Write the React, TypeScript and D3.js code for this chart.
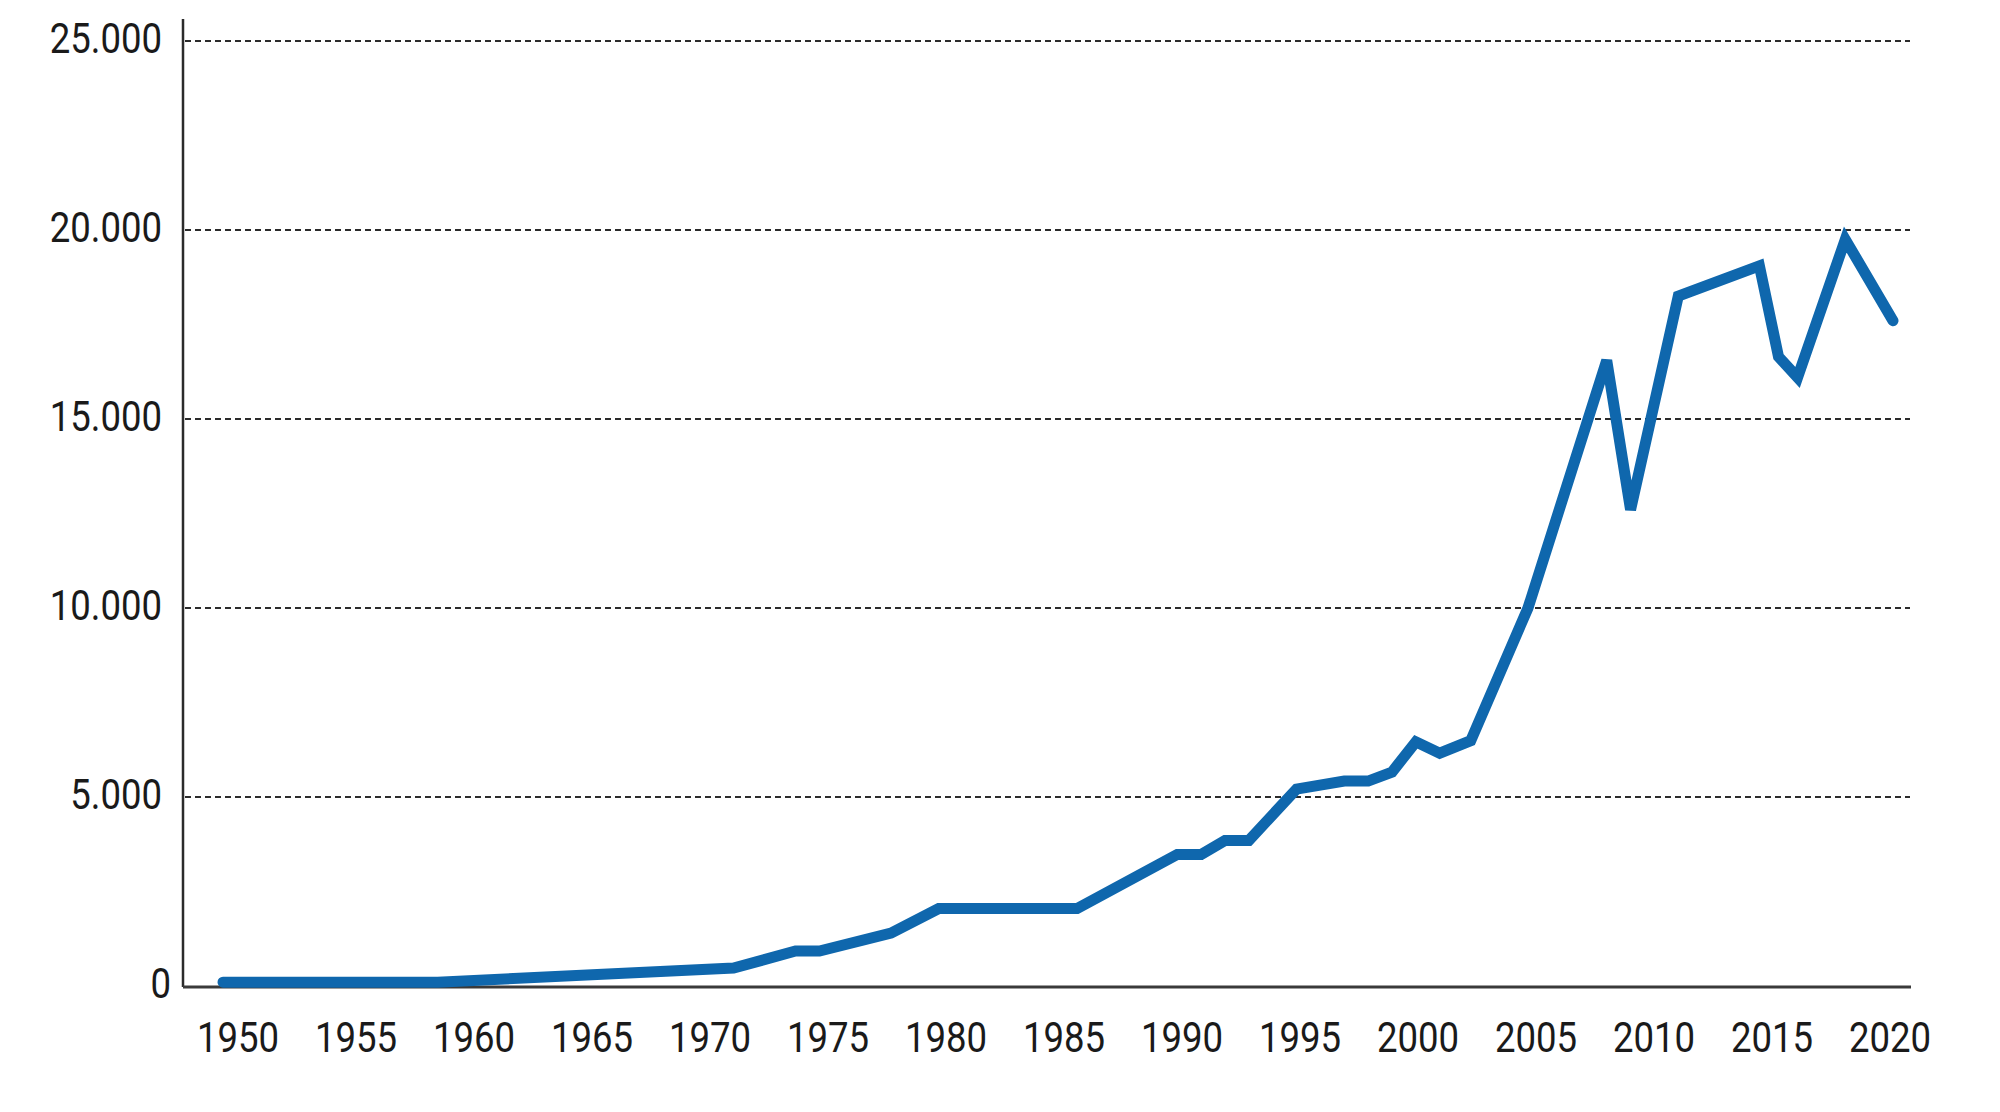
import React from "react";
import * as d3 from "d3";

// ---- data ----
const years = [
  1950, 1959, 1971.4, 1974, 1975, 1978, 1980, 1985.8, 1990, 1991, 1992, 1993,
  1995, 1997, 1998, 1999, 2000, 2001, 2002.3, 2004.7, 2008, 2009, 2011, 2014.4,
  2015.2, 2016, 2018, 2020,
];
const values = [
  100, 100, 475, 925, 925, 1400, 2050, 2050, 3480, 3480, 3850, 3850,
  5210, 5420, 5420, 5660, 6460, 6160, 6490, 10000, 16550, 12600, 18250, 19050,
  16650, 16100, 19750, 17600,
];
const yTicks = [0, 5000, 10000, 15000, 20000, 25000];
const xTickLabels = [
  "1950", "1955", "1960", "1965", "1970", "1975", "1980", "1985",
  "1990", "1995", "2000", "2005", "2010", "2015", "2020",
];

const W = 2000;
const H = 1112;

const deLocale = d3.formatLocale({
  decimal: ",",
  thousands: ".",
  grouping: [3],
  currency: ["", " €"],
});
const fmt = deLocale.format(",");

export default function App() {
  const axisX = 183;
  const plotRight = 1911;
  const x = d3.scaleLinear().domain([1950, 2020]).range([223, 1893]);
  const y = d3.scaleLinear().domain([0, 25000]).range([986, 41]);
  const xLabelPos = d3.scalePoint<string>().domain(xTickLabels).range([238, 1890]);

  const pts = years.map((yr, i) => [yr, values[i]] as [number, number]);
  const line = d3
    .line<[number, number]>()
    .x((d) => x(d[0]))
    .y((d) => y(d[1]));

  const font = "Roboto, 'Noto Sans', sans-serif";
  const sx = 0.87;

  return (
    <div style={{ width: W, height: H }}>
      <style>{`body{margin:0;background:#fff}`}</style>
      <svg width={W} height={H} style={{ display: "block", background: "#fff" }}>
        {/* gridlines */}
        {yTicks
          .filter((t) => t > 0)
          .map((t) => (
            <line
              key={"g" + t}
              x1={axisX + 2}
              x2={plotRight - 1}
              y1={y(t)}
              y2={y(t)}
              stroke="#2b2b2b"
              strokeWidth={2.2}
              strokeDasharray="6,4"
            />
          ))}
        {/* y axis */}
        <line x1={axisX} x2={axisX} y1={19} y2={y(0) + 1} stroke="#2b2b2b" strokeWidth={2.5} />
        {/* x axis */}
        <line x1={axisX} x2={plotRight} y1={y(0) + 1} y2={y(0) + 1} stroke="#3a3a3a" strokeWidth={2.8} />
        {/* y labels */}
        {yTicks.map((t) => (
          <text
            key={"yl" + t}
            transform={`translate(${t === 0 ? 171 : 162},${y(t) + 12}) scale(${sx},1)`}
            textAnchor="end"
            fontFamily={font}
            fontSize={42}
            fill="#1a1a1a"
          >
            {fmt(t)}
          </text>
        ))}
        {/* x labels */}
        {xTickLabels.map((l) => (
          <text
            key={"xl" + l}
            transform={`translate(${xLabelPos(l)},${1052}) scale(${sx},1)`}
            textAnchor="middle"
            fontFamily={font}
            fontSize={42}
            fill="#1a1a1a"
          >
            {l}
          </text>
        ))}
        {/* data line */}
        <path
          d={line(pts) || ""}
          fill="none"
          stroke="#0f67ad"
          strokeWidth={11}
          strokeLinejoin="miter"
          strokeLinecap="round"
        />
      </svg>
    </div>
  );
}
